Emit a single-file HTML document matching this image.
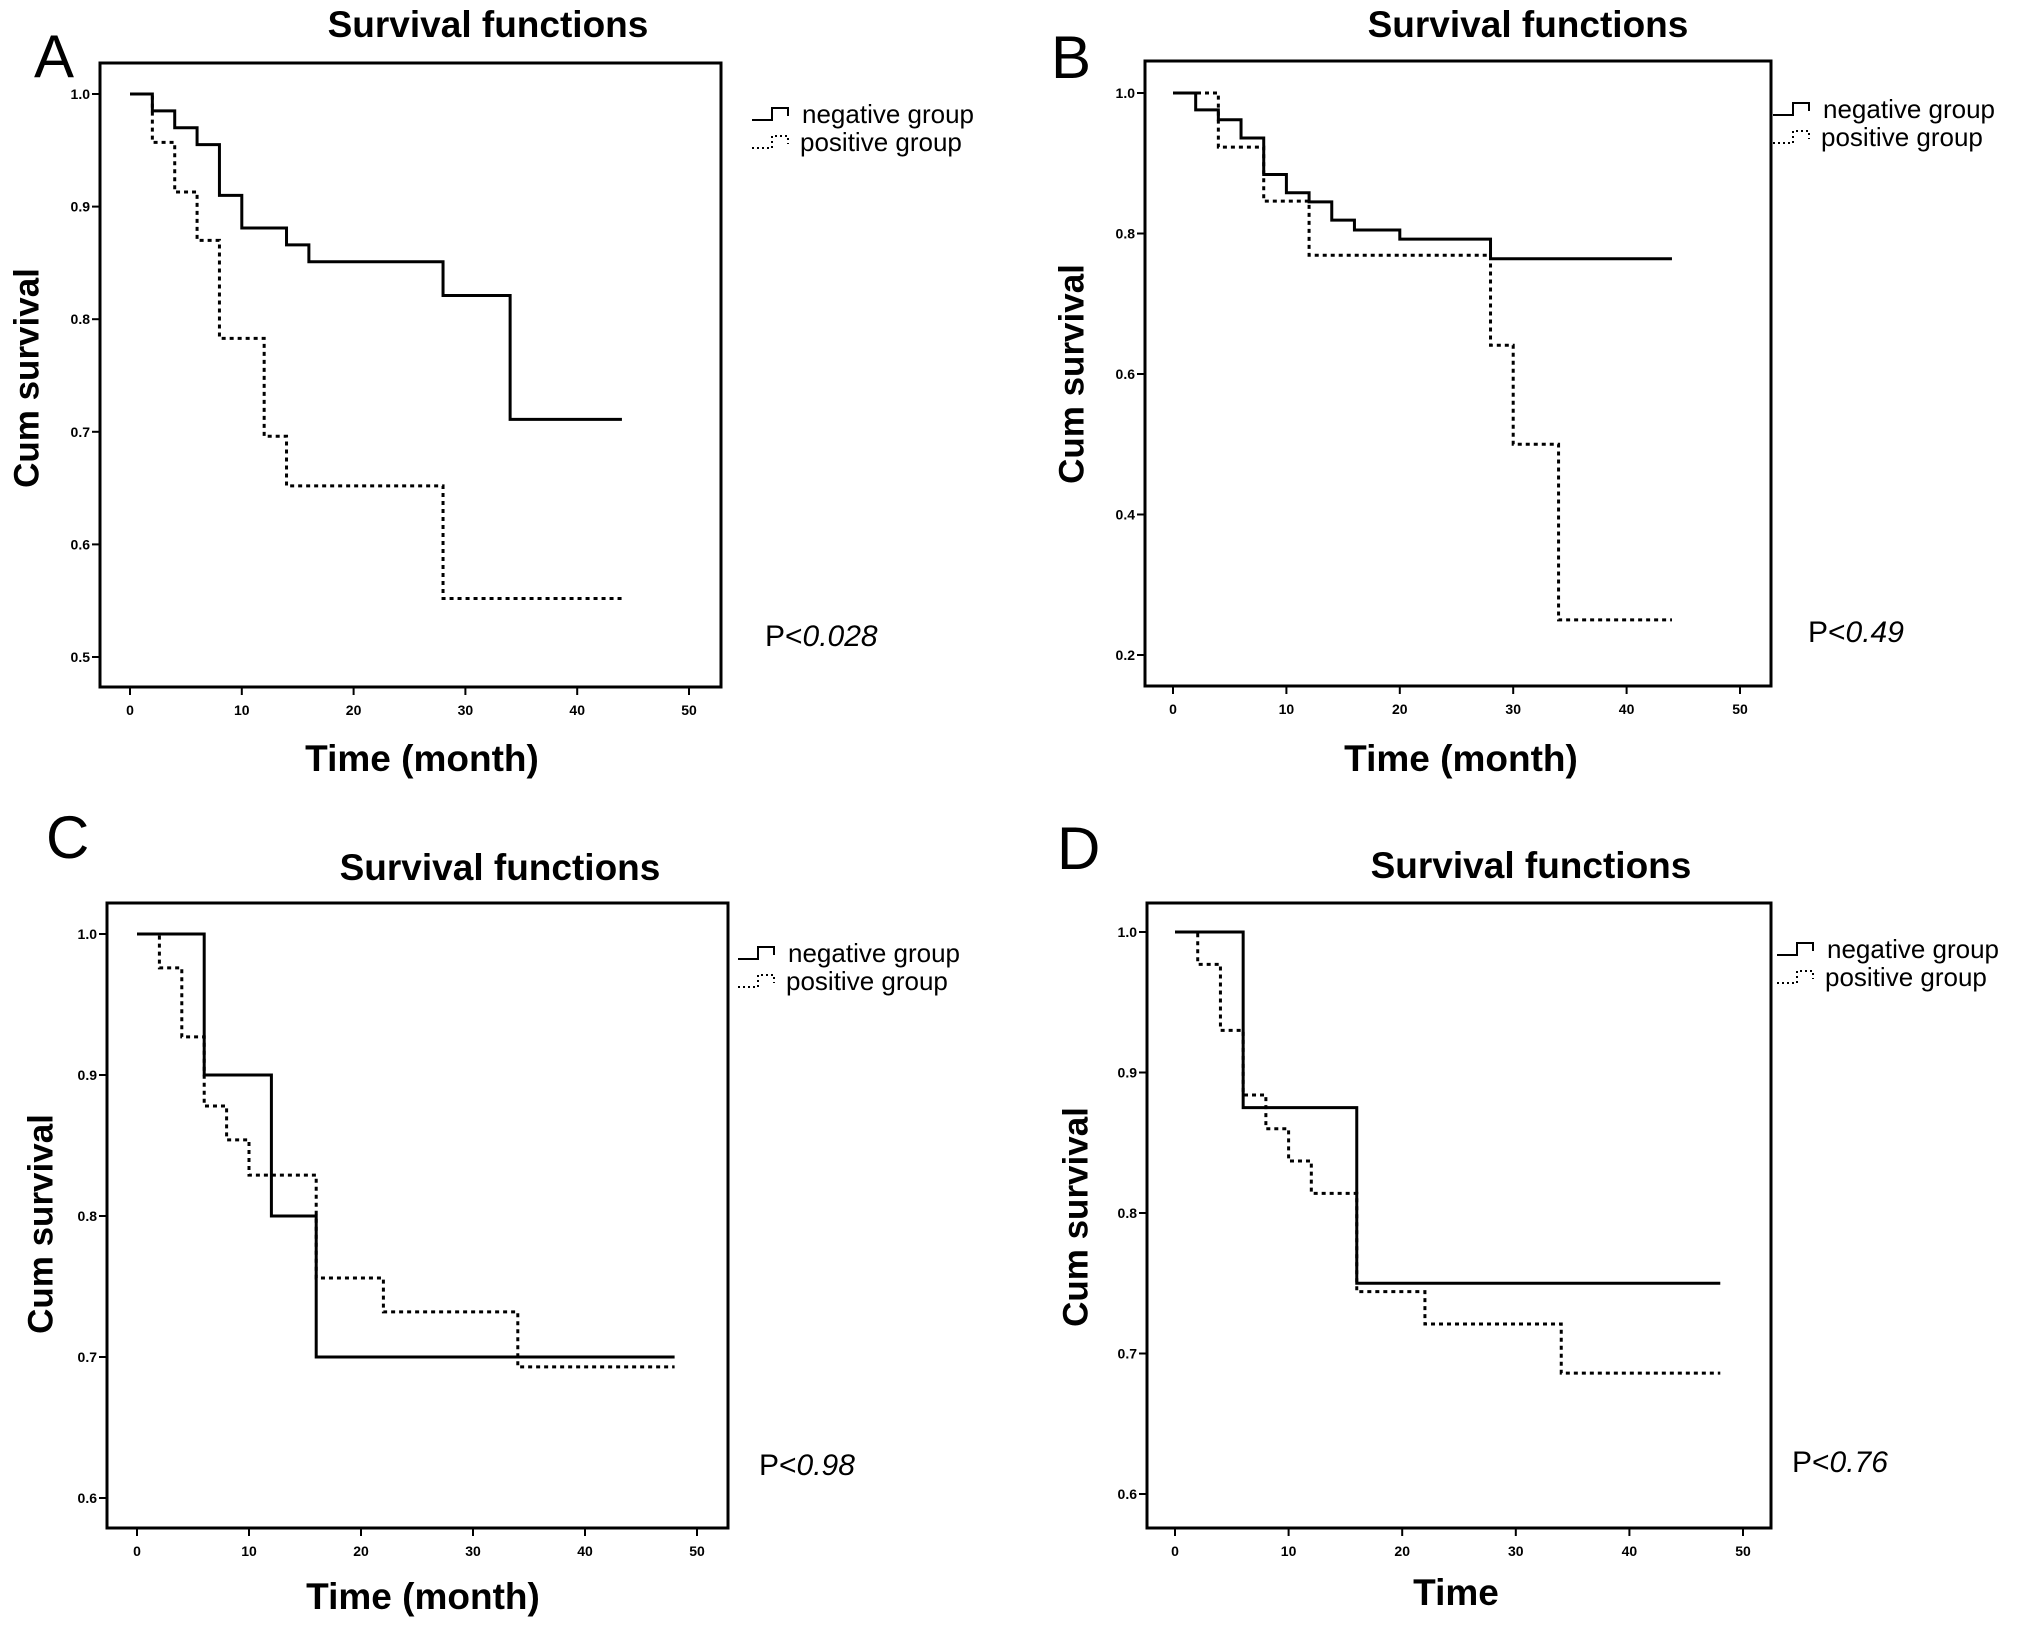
<!DOCTYPE html>
<html><head><meta charset="utf-8"><style>
html,body{margin:0;padding:0;background:#fff}
svg{display:block;font-family:"Liberation Sans",Arial,sans-serif}
</style></head><body>
<svg id="fig" width="2031" height="1629" viewBox="0 0 2031 1629" xmlns="http://www.w3.org/2000/svg"></svg>
<script>
// Panel A data
const aNegTimes=[0,2,4,6,8,10,14,16,28,34,44];
const aNegSurv=[1,0.985,0.970,0.955,0.910,0.881,0.866,0.851,0.821,0.711,0.711];
const aPosTimes=[0,2,4,6,8,12,14,28,44];
const aPosSurv=[1,0.957,0.913,0.870,0.783,0.696,0.652,0.552,0.552];
const aYTicks=[1.0,0.9,0.8,0.7,0.6,0.5];
// Panel B data
const bNegTimes=[0,2,4,6,8,10,12,14,16,20,28,44];
const bNegSurv=[1,0.976,0.962,0.936,0.884,0.858,0.845,0.819,0.805,0.792,0.764,0.764];
const bPosTimes=[0,4,8,12,28,30,34,44];
const bPosSurv=[1,0.923,0.846,0.769,0.641,0.5,0.25,0.25];
const bYTicks=[1.0,0.8,0.6,0.4,0.2];
// Panel C data
const cNegTimes=[0,6,12,16,48];
const cNegSurv=[1,0.9,0.8,0.7,0.7];
const cPosTimes=[0,2,4,6,8,10,16,22,34,48];
const cPosSurv=[1,0.976,0.927,0.878,0.854,0.829,0.756,0.732,0.693,0.693];
const cYTicks=[1.0,0.9,0.8,0.7,0.6];
// Panel D data
const dNegTimes=[0,6,16,48];
const dNegSurv=[1,0.875,0.75,0.75];
const dPosTimes=[0,2,4,6,8,10,12,16,22,34,48];
const dPosSurv=[1,0.977,0.930,0.884,0.860,0.837,0.814,0.744,0.721,0.686,0.686];
const dYTicks=[1.0,0.9,0.8,0.7,0.6];
const xTicks=[0,10,20,30,40,50];

const NS='http://www.w3.org/2000/svg';
const svg=document.getElementById('fig');
function mk(tag,attrs,parent,text){const e=document.createElementNS(NS,tag);for(const k in attrs)e.setAttribute(k,attrs[k]);if(text!==undefined)e.textContent=text;(parent||svg).appendChild(e);return e;}

const panels=[
 {id:'a',letter:'A',lx:34,ly:77,box:[100,63,721,687],x0:130,x50:689,yTop:1.0,yTopPx:94,yBot:0.5,yBotPx:657,yt:aYTicks,
  neg:[aNegTimes,aNegSurv],pos:[aPosTimes,aPosSurv],title:[488,37],leg:[752,114],p:[765,646,'0.028'],ylab:[27,378],xlab:[422,771,'Time (month)']},
 {id:'b',letter:'B',lx:1051,ly:78,box:[1145,61,1771,686],x0:1173,x50:1740,yTop:1.0,yTopPx:93,yBot:0.2,yBotPx:655,yt:bYTicks,
  neg:[bNegTimes,bNegSurv],pos:[bPosTimes,bPosSurv],title:[1528,37],leg:[1773,109],p:[1808,642,'0.49'],ylab:[1072,374],xlab:[1461,771,'Time (month)']},
 {id:'c',letter:'C',lx:46,ly:858,box:[107,903,728,1528],x0:137,x50:697,yTop:1.0,yTopPx:934,yBot:0.6,yBotPx:1498,yt:cYTicks,
  neg:[cNegTimes,cNegSurv],pos:[cPosTimes,cPosSurv],title:[500,880],leg:[738,953],p:[759,1475,'0.98'],ylab:[41,1224],xlab:[423,1609,'Time (month)']},
 {id:'d',letter:'D',lx:1057,ly:869,box:[1147,903,1771,1528],x0:1175,x50:1743,yTop:1.0,yTopPx:932,yBot:0.6,yBotPx:1494,yt:dYTicks,
  neg:[dNegTimes,dNegSurv],pos:[dPosTimes,dPosSurv],title:[1531,878],leg:[1777,949],p:[1792,1472,'0.76'],ylab:[1076,1217],xlab:[1456,1605,'Time']}
];

function stepPath(ts,ss,xs,ys){let d='M'+xs(ts[0])+','+ys(ss[0]);for(let i=1;i<ts.length;i++){d+=' H'+xs(ts[i])+' V'+ys(ss[i]);}return d;}

panels.forEach(p=>{
 const g=mk('g',{});
 
 
 const xs=t=>p.x0+(p.x50-p.x0)*t/50;
 const ys=v=>p.yTopPx+(p.yBotPx-p.yTopPx)*(p.yTop-v)/(p.yTop-p.yBot);
 const L=mk('text',{x:p.lx,y:p.ly,'font-size':60},g,p.letter);
 
 
 const T=mk('text',{x:p.title[0],y:p.title[1],'font-size':37,'font-weight':'bold','text-anchor':'middle'},g,'Survival functions');
 
 
 const [bx1,by1,bx2,by2]=p.box;
 const B=mk('rect',{x:bx1,y:by1,width:bx2-bx1,height:by2-by1,fill:'none',stroke:'#000','stroke-width':3},g);
 
 
 p.yt.forEach(v=>{
  const y=ys(v);
  mk('line',{x1:bx1-8,y1:y,x2:bx1,y2:y,stroke:'#000','stroke-width':2},g);
  const t=mk('text',{x:bx1-10,y:y+5,'font-size':14,'font-weight':'bold','text-anchor':'end'},g,v.toFixed(1));
  
  
 });
 xTicks.forEach(v=>{
  const x=xs(v);
  mk('line',{x1:x,y1:by2,x2:x,y2:by2+8,stroke:'#000','stroke-width':2},g);
  const t=mk('text',{x:x,y:by2+28,'font-size':14,'font-weight':'bold','text-anchor':'middle'},g,String(v));
  
  
 });
 const n=mk('path',{d:stepPath(p.neg[0],p.neg[1],xs,ys),fill:'none',stroke:'#000','stroke-width':3},g);
 
 
 const q=mk('path',{d:stepPath(p.pos[0],p.pos[1],xs,ys),fill:'none',stroke:'#000','stroke-width':3,'stroke-dasharray':'4,4'},g);
 
 
 const [lx,ly]=p.leg;
 const lg=mk('g',{},g);
 
 
 mk('path',{d:`M${lx},${ly+6} H${lx+20} V${ly-6} H${lx+36} V${ly+2}`,fill:'none',stroke:'#000','stroke-width':2},lg);
 mk('path',{d:`M${lx},${ly+34} H${lx+20} V${ly+22} H${lx+36} V${ly+30}`,fill:'none',stroke:'#000','stroke-width':2,'stroke-dasharray':'2,3'},lg);
 const e1=mk('text',{x:lx+50,y:ly+9,'font-size':26},lg,'negative group');
 
 
 const e2=mk('text',{x:lx+48,y:ly+37,'font-size':26},lg,'positive group');
 
 
 const pv=mk('text',{x:p.p[0],y:p.p[1],'font-size':30},g);
 
 
 mk('tspan',{},pv,'P<');
 mk('tspan',{'font-style':'italic'},pv,p.p[2]);
 const yl=mk('text',{x:p.ylab[0],y:p.ylab[1],'font-size':35,'font-weight':'bold','text-anchor':'middle',transform:`rotate(-90 ${p.ylab[0]} ${p.ylab[1]})`,'dominant-baseline':'central'},g,'Cum survival');
 
 
 const xl=mk('text',{x:p.xlab[0],y:p.xlab[1],'font-size':37,'font-weight':'bold','text-anchor':'middle'},g,p.xlab[2]);
 
 
});
</script>
</body></html>
